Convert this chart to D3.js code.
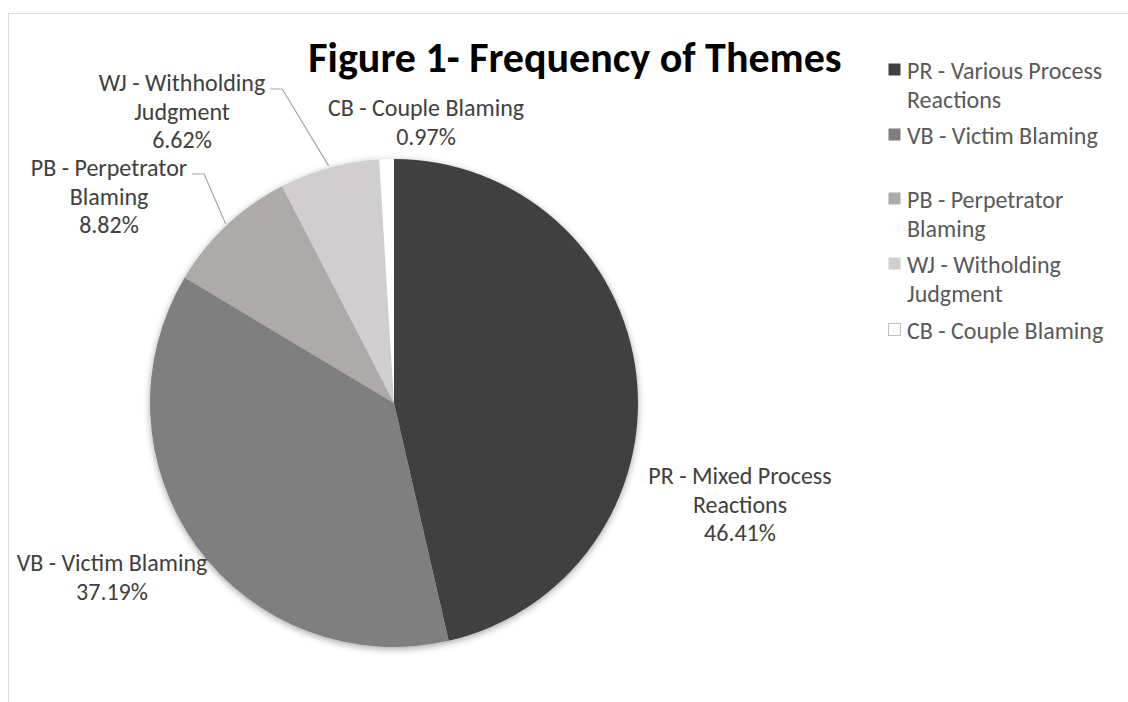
<!DOCTYPE html>
<html>
<head>
<meta charset="utf-8">
<script src="https://cdn.jsdelivr.net/npm/d3@7"></script>
<style>
  body { margin: 0; background: #fff; }
  svg { display: block; font-family: Carlito, Calibri, Lato, sans-serif; }
</style>
</head>
<body>
<div id="chart"></div>
<script>
// data
const categories = ['PR', 'VB', 'PB', 'WJ', 'CB'];
const shares = [46.41, 37.19, 8.82, 6.62, 0.97];
const sliceLabels = [
  ['PR - Mixed Process', 'Reactions'],
  ['VB - Victim Blaming'],
  ['PB - Perpetrator', 'Blaming'],
  ['WJ - Withholding', 'Judgment'],
  ['CB - Couple Blaming']
];
const legendLabels = [
  ['PR - Various Process', 'Reactions'],
  ['VB - Victim Blaming'],
  ['PB - Perpetrator', 'Blaming'],
  ['WJ - Witholding', 'Judgment'],
  ['CB - Couple Blaming']
];
const colors = ['#404040', '#7f7f7f', '#aeaaaa', '#d0cece', '#ffffff'];

const width = 1128, height = 702;
const cx = 394, cy = 403, radius = 244;
const lineH = 28.5;

// where excel dropped each data label (centre of first line, relative to pie centre)
const labelPos = [[346, 72], [-282, 159], [-285, -236], [-212, -321], [32, -296]];
const leader = [false, false, true, true, false];

const svg = d3.select('#chart').append('svg')
  .attr('width', width)
  .attr('height', height);

const defs = svg.append('defs');
const shadow = defs.append('filter').attr('id', 'shadow')
  .attr('x', '-10%').attr('y', '-10%').attr('width', '120%').attr('height', '120%');
shadow.append('feDropShadow')
  .attr('dx', 0).attr('dy', 2).attr('stdDeviation', 3.5)
  .attr('flood-color', '#000').attr('flood-opacity', 0.35);

// chart area border (cropped on right and bottom)
svg.append('rect')
  .attr('x', 8.5).attr('y', 13.5)
  .attr('width', width + 20).attr('height', height + 20)
  .attr('fill', 'none')
  .attr('stroke', '#d9d9d9');

svg.append('text')
  .attr('x', 575).attr('y', 72)
  .attr('text-anchor', 'middle')
  .attr('font-size', 42)
  .attr('font-weight', 'bold')
  .attr('fill', '#000')
  .text('Figure 1- Frequency of Themes');

const rows = categories.map((c, i) => ({ cat: c, value: shares[i], i }));

const pie = d3.pie().sort(null).value(d => d.value);
const arc = d3.arc().innerRadius(0).outerRadius(radius);
const arcs = pie(rows);

const g = svg.append('g').attr('transform', `translate(${cx},${cy})`);

g.append('g').attr('filter', 'url(#shadow)')
  .selectAll('path')
  .data(arcs)
  .join('path')
  .attr('d', arc)
  .attr('fill', d => colors[d.data.i]);

// data labels
const labels = g.append('g')
  .attr('font-size', 24)
  .attr('fill', '#404040')
  .attr('text-anchor', 'middle');

arcs.forEach(d => {
  const i = d.data.i;
  const [lx, ly] = labelPos[i];
  const lines = sliceLabels[i].concat([d3.format('.2f')(d.data.value) + '%']);
  const t = labels.append('text')
    .attr('x', lx).attr('y', ly)
    .attr('dominant-baseline', 'central');
  lines.forEach((s, k) => {
    t.append('tspan').attr('x', lx).attr('y', ly + k * lineH).text(s);
  });

  if (leader[i]) {
    const w = t.select('tspan').node().getComputedTextLength();
    const x0 = lx + w / 2 + 5;
    const y0 = ly + 7;
    const mid = (d.startAngle + d.endAngle) / 2;
    const px = Math.sin(mid) * (radius + 2);
    const py = -Math.cos(mid) * (radius + 2);
    g.append('polyline')
      .attr('points', [[x0, y0], [x0 + 12, y0], [px, py]].map(p => p.join(',')).join(' '))
      .attr('fill', 'none')
      .attr('stroke', '#a6a6a6')
      .attr('stroke-width', 1.2);
  }
});

// legend
const legendY = [70, 135, 199, 264, 330];
const legend = svg.append('g')
  .attr('font-size', 24)
  .attr('fill', '#595959');

legendLabels.forEach((lines, i) => {
  const y = legendY[i];
  legend.append('rect')
    .attr('x', 888.5).attr('y', y - 6.5)
    .attr('width', 12).attr('height', 12)
    .attr('fill', colors[i])
    .attr('stroke', i === 4 ? '#bfbfbf' : 'none');
  const t = legend.append('text').attr('dominant-baseline', 'central');
  lines.forEach((s, k) => {
    t.append('tspan').attr('x', 907).attr('y', y + k * 29).text(s);
  });
});
</script>
</body>
</html>
